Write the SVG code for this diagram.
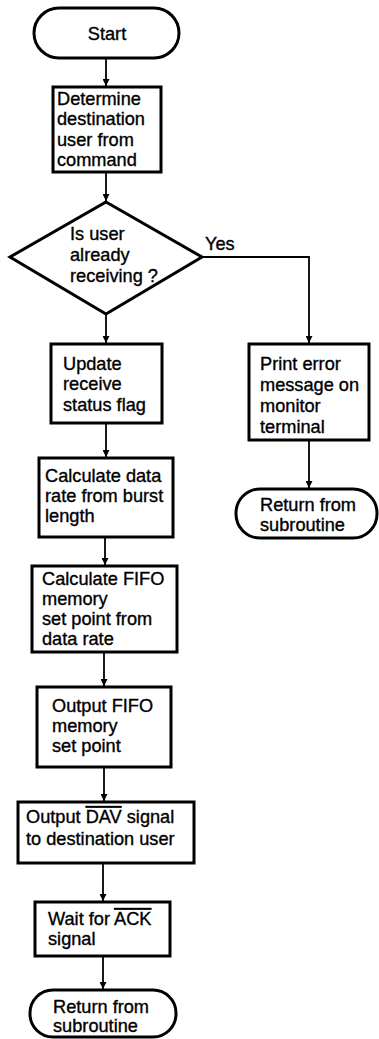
<svg xmlns="http://www.w3.org/2000/svg" width="379" height="1039" viewBox="0 0 379 1039">
<defs>
<style>
.shape{fill:#fff;stroke:#000;stroke-width:3}
.conn{fill:none;stroke:#000;stroke-width:1.8}
text{font-family:"Liberation Sans",Arial,sans-serif;font-size:18.2px;fill:#000;stroke:#000;stroke-width:0.35}
.ov{text-decoration:overline}
</style>
<marker id="arr" viewBox="0 0 10 10" refX="10" refY="5" markerWidth="7" markerHeight="7" markerUnits="userSpaceOnUse" orient="auto">
<path d="M0,0 L10,5 L0,10 z" fill="#000"/>
</marker>
</defs>
<rect width="379" height="1039" fill="#fff"/>
<g id="connectors">
<line class="conn" x1="106" y1="58" x2="106" y2="86" marker-end="url(#arr)"/>
<line class="conn" x1="106" y1="172" x2="106" y2="201" marker-end="url(#arr)"/>
<line class="conn" x1="106" y1="315" x2="106" y2="343" marker-end="url(#arr)"/>
<polyline class="conn" points="202,257 309,257 309,343" marker-end="url(#arr)"/>
<line class="conn" x1="106" y1="423" x2="106" y2="457" marker-end="url(#arr)"/>
<line class="conn" x1="309" y1="440" x2="309" y2="488" marker-end="url(#arr)"/>
<line class="conn" x1="105" y1="537" x2="105" y2="565" marker-end="url(#arr)"/>
<line class="conn" x1="104" y1="652" x2="104" y2="686" marker-end="url(#arr)"/>
<line class="conn" x1="104" y1="767" x2="104" y2="801" marker-end="url(#arr)"/>
<line class="conn" x1="103" y1="863" x2="103" y2="901" marker-end="url(#arr)"/>
<line class="conn" x1="103" y1="956" x2="103" y2="989" marker-end="url(#arr)"/>
<text x="205" y="250">Yes</text>
</g>
<g id="start">
<rect class="shape" x="34" y="8" width="145" height="50" rx="25"/>
<text x="107" y="40" text-anchor="middle">Start</text>
</g>
<g id="determine">
<rect class="shape" x="53" y="87" width="108" height="85"/>
<text x="57" y="105">Determine</text>
<text x="57" y="125">destination</text>
<text x="57" y="146">user from</text>
<text x="57" y="166">command</text>
</g>
<g id="decision">
<polygon class="shape" points="106,202 202,257 106,314 10,257"/>
<text x="70" y="240">Is user</text>
<text x="70" y="261">already</text>
<text x="70" y="282">receiving ?</text>
</g>
<g id="update">
<rect class="shape" x="51" y="344" width="111" height="79"/>
<text x="63" y="370">Update</text>
<text x="63" y="390">receive</text>
<text x="63" y="411">status flag</text>
</g>
<g id="print-error">
<rect class="shape" x="249" y="344" width="120" height="96"/>
<text x="260" y="370">Print error</text>
<text x="260" y="391">message on</text>
<text x="260" y="412">monitor</text>
<text x="260" y="433">terminal</text>
</g>
<g id="return-error">
<rect class="shape" x="236" y="489" width="141" height="49" rx="24"/>
<text x="260" y="511">Return from</text>
<text x="260" y="531">subroutine</text>
</g>
<g id="calc-rate">
<rect class="shape" x="39" y="458" width="134" height="79"/>
<text x="45" y="482">Calculate data</text>
<text x="45" y="502">rate from burst</text>
<text x="45" y="522">length</text>
</g>
<g id="calc-fifo">
<rect class="shape" x="32" y="566" width="145" height="86"/>
<text x="42" y="585">Calculate FIFO</text>
<text x="42" y="605">memory</text>
<text x="42" y="625">set point from</text>
<text x="42" y="645">data rate</text>
</g>
<g id="output-fifo">
<rect class="shape" x="37" y="687" width="134" height="80"/>
<text x="52" y="712">Output FIFO</text>
<text x="52" y="732">memory</text>
<text x="52" y="752">set point</text>
</g>
<g id="output-dav">
<rect class="shape" x="18" y="802" width="176" height="61"/>
<text x="26" y="823">Output <tspan class="ov">DAV</tspan> signal</text>
<text x="26" y="845">to destination user</text>
</g>
<g id="wait-ack">
<rect class="shape" x="35" y="902" width="135" height="54"/>
<text x="48" y="925">Wait for <tspan class="ov">ACK</tspan></text>
<text x="48" y="945">signal</text>
</g>
<g id="return-end">
<rect class="shape" x="30" y="990" width="146" height="47" rx="23"/>
<text x="53" y="1013">Return from</text>
<text x="53" y="1032">subroutine</text>
</g>
</svg>
